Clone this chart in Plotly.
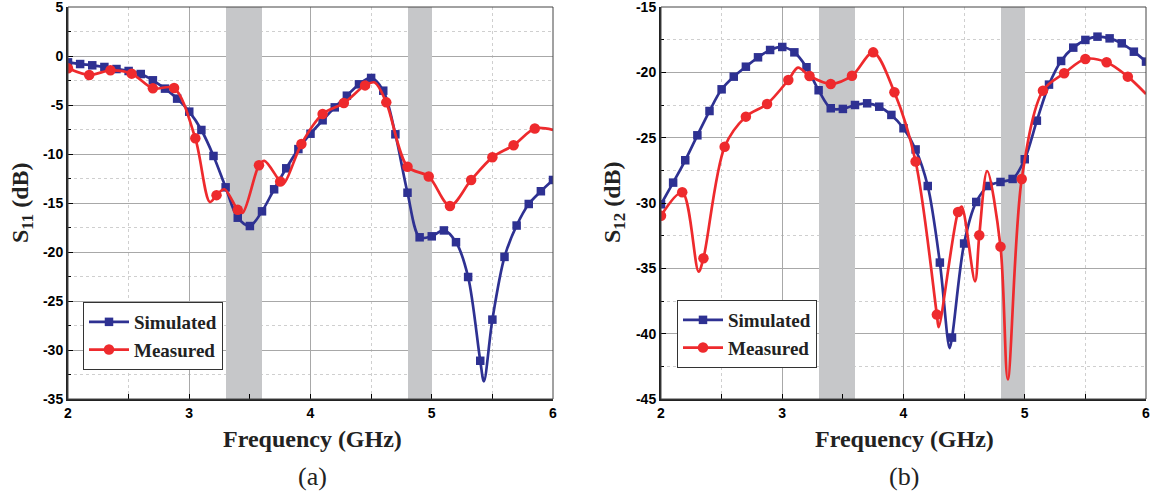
import plotly.graph_objects as go

# ---------------- data ----------------
freq_sim = [2.0, 2.1, 2.2, 2.3, 2.4, 2.5, 2.6, 2.7, 2.8, 2.9, 3.0, 3.1, 3.2, 3.3, 3.4, 3.5, 3.6, 3.7,
            3.8, 3.9, 4.0, 4.1, 4.2, 4.3, 4.4, 4.5, 4.6, 4.7, 4.8, 4.9, 5.0, 5.1, 5.2, 5.3, 5.4, 5.5,
            5.6, 5.7, 5.8, 5.9, 6.0]
s11_sim = [-0.65, -0.82, -0.95, -1.12, -1.33, -1.53, -1.84, -2.48, -3.33, -4.35, -5.68, -7.55, -10.2,
           -13.4, -16.5, -17.35, -15.85, -13.6, -11.46, -9.5, -7.93, -6.56, -5.24, -4.05, -2.89, -2.24,
           -3.54, -7.99, -13.95, -18.5, -18.4, -17.8, -19.0, -22.55, -31.1, -26.9, -20.5, -17.3, -15.1,
           -13.8, -12.65]
s11_sim_extra_f = [5.43]
s11_sim_extra_v = [-33.2]

freq_meas = [2.0, 2.175, 2.35, 2.525, 2.7, 2.875, 3.05, 3.225, 3.4, 3.575, 3.75, 3.925, 4.1, 4.275,
             4.45, 4.625, 4.8, 4.975, 5.15, 5.325, 5.5, 5.675, 5.85]
s11_meas = [-1.26, -1.94, -1.46, -1.8, -3.3, -3.27, -8.4, -14.2, -15.7, -11.15, -12.8, -8.98, -5.92,
            -4.8, -3.0, -4.73, -11.3, -12.3, -15.3, -12.65, -10.34, -9.1, -7.4]
s11_meas_extra_f = [3.17, 3.29, 3.44, 3.62, 3.78, 4.53, 6.0]
s11_meas_extra_v = [-14.9, -13.6, -16.0, -10.7, -13.0, -2.7, -7.55]

s12_sim = [-30.1, -28.44, -26.73, -24.82, -22.96, -21.3, -20.33, -19.57, -18.85, -18.29, -18.06,
           -18.47, -19.61, -21.37, -22.75, -22.8, -22.5, -22.37, -22.63, -23.26, -24.28, -25.9, -28.7,
           -34.56, -40.3, -33.1, -29.92, -28.7, -28.39, -28.16, -26.65, -23.7, -20.94, -19.13, -18.11,
           -17.52, -17.27, -17.4, -17.78, -18.42, -19.18]
s12_sim_extra_f = [4.38]
s12_sim_extra_v = [-41.1]

s12_meas = [-30.97, -29.18, -34.23, -25.69, -23.39, -22.42, -20.59, -20.28, -20.89, -20.26, -18.47,
            -21.53, -26.83, -38.54, -30.69, -32.47, -33.34, -28.16, -21.4, -20.07, -18.98, -19.23,
            -20.33]
s12_meas_extra_f = [2.31, 3.13, 4.29, 4.48, 4.59, 4.69, 4.86, 6.0]
s12_meas_extra_v = [-35.25, -19.64, -39.5, -30.28, -36.0, -27.55, -43.5, -21.66]

band_start = [3.3, 4.8]
band_end = [3.6, 5.0]

x_ticks = [2, 3, 4, 5, 6]
x_ticktext = ["2", "3", "4", "5", "6"]
y1_ticks = [5, 0, -5, -10, -15, -20, -25, -30, -35]
y1_ticktext = ["5", "0", "-5", "-10", "-15", "-20", "-25", "-30", "-35"]
y2_ticks = [-15, -20, -25, -30, -35, -40, -45]
y2_ticktext = ["-15", "-20", "-25", "-30", "-35", "-40", "-45"]

BLUE = "#2E3192"
RED = "#EE2A2D"
BAND = "#C6C7C9"
W, H = 1154, 495

fig = go.Figure()


def bold(labels):
    return ["<b>%s</b>" % t for t in labels]


def add_bands(xa, ya, ymin, ymax):
    centers = [(a + b) / 2 for a, b in zip(band_start, band_end)]
    widths = [b - a for a, b in zip(band_start, band_end)]
    fig.add_trace(go.Bar(x=centers, y=[ymax - ymin] * len(centers), base=ymin, width=widths,
                         marker=dict(color=BAND, line=dict(width=0)), xaxis=xa, yaxis=ya,
                         showlegend=False, hoverinfo="skip"))


def merged(xm, ym, xe, ye):
    pts = sorted(zip(list(xm) + list(xe), list(ym) + list(ye)))
    return [p[0] for p in pts], [p[1] for p in pts]


def add_series(xm, ym, xe, ye, color, symbol, size, name, xa, ya, legend):
    xl, yl = merged(xm, ym, xe, ye)
    fig.add_trace(go.Scatter(x=xl, y=yl, mode="lines",
                             line=dict(color=color, width=2.7, shape="spline", smoothing=0.9),
                             xaxis=xa, yaxis=ya, showlegend=False, hoverinfo="skip"))
    fig.add_trace(go.Scatter(x=xm, y=ym, mode="markers",
                             marker=dict(color=color, symbol=symbol, size=size),
                             xaxis=xa, yaxis=ya, showlegend=False))
    fig.add_trace(go.Scatter(x=[None], y=[None], mode="lines+markers", name="<b>%s</b>" % name,
                             line=dict(color=color, width=2.7),
                             marker=dict(color=color, symbol=symbol, size=size),
                             xaxis=xa, yaxis=ya, legend=legend))


add_bands("x", "y", -35, 5)
add_bands("x2", "y2", -45, -15)
add_series(freq_sim, s11_sim, s11_sim_extra_f, s11_sim_extra_v, BLUE, "square", 8.5, "Simulated", "x", "y", "legend")
add_series(freq_meas, s11_meas, s11_meas_extra_f, s11_meas_extra_v, RED, "circle", 10.5, "Measured", "x", "y", "legend")
add_series(freq_sim, s12_sim, s12_sim_extra_f, s12_sim_extra_v, BLUE, "square", 8.5, "Simulated", "x2", "y2", "legend2")
add_series(freq_meas, s12_meas, s12_meas_extra_f, s12_meas_extra_v, RED, "circle", 10.5, "Measured", "x2", "y2", "legend2")

# geometry in pixels
L1, R1 = 68, 553
L2, R2 = 661, 1146
TOP, BOT = 7, 399
ydom = [1 - BOT / H, 1 - TOP / H]

tickfont = dict(family="Liberation Sans", size=14, color="black")
axis_common = dict(showline=True, linecolor="#222", linewidth=2, ticks="inside", ticklen=5,
                   tickcolor="black", tickwidth=1, showgrid=True, gridcolor="#A8A8A8", gridwidth=1,
                   zeroline=False, tickfont=tickfont, automargin=False, ticklabeloverflow="allow")

fig.update_layout(
    xaxis=dict(domain=[L1 / W, R1 / W], range=[2, 6], tickvals=x_ticks, ticktext=bold(x_ticktext), anchor="y",
               minor=dict(dtick=0.5, tick0=2, showgrid=True, gridcolor="#CFCFCF", griddash="dot",
                          ticks="inside", ticklen=5, tickcolor="black"), **axis_common),
    yaxis=dict(domain=ydom, range=[-35, 5], tickvals=y1_ticks, ticktext=bold(y1_ticktext), anchor="x",
               minor=dict(dtick=2.5, tick0=0, showgrid=True, gridcolor="#CFCFCF", griddash="dot",
                          ticks="inside", ticklen=3, tickcolor="black"), **axis_common),
    xaxis2=dict(domain=[L2 / W, R2 / W], range=[2, 6], tickvals=x_ticks, ticktext=bold(x_ticktext), anchor="y2",
                minor=dict(dtick=0.5, tick0=2, showgrid=True, gridcolor="#CFCFCF", griddash="dot",
                           ticks="inside", ticklen=5, tickcolor="black"), **axis_common),
    yaxis2=dict(domain=ydom, range=[-45, -15], tickvals=y2_ticks, ticktext=bold(y2_ticktext), anchor="x2",
                minor=dict(dtick=2.5, tick0=-15, showgrid=True, gridcolor="#CFCFCF", griddash="dot",
                           ticks="inside", ticklen=3, tickcolor="black"), **axis_common),
    width=W, height=H, margin=dict(l=0, r=0, t=0, b=0),
    paper_bgcolor="white", plot_bgcolor="white", bargap=0,
    legend=dict(x=83 / W, y=1 - 302 / H, xanchor="left", yanchor="top", bgcolor="white",
                bordercolor="#333", borderwidth=1, font=dict(family="Liberation Serif", size=19, color="#222"),
                itemwidth=40, tracegroupgap=0),
    legend2=dict(x=677 / W, y=1 - 300 / H, xanchor="left", yanchor="top", bgcolor="white",
                 bordercolor="#333", borderwidth=1, font=dict(family="Liberation Serif", size=19, color="#222"),
                 itemwidth=40, tracegroupgap=0),
)

shapes = []
for xa, ya in (("x", "y"), ("x2", "y2")):
    shapes.append(dict(type="rect", xref=xa + " domain", yref=ya + " domain", x0=0, x1=1, y0=0, y1=1,
                       line=dict(color="#444", width=1), fillcolor="rgba(0,0,0,0)", layer="above"))
fig.update_layout(shapes=shapes)

title_font = dict(family="Liberation Serif", size=24, color="#222")
ann = []
for cx, lab in ((312, "(a)"), (904, "(b)")):
    ann.append(dict(x=cx / W, y=1 - 439 / H, xref="paper", yref="paper", text="<b>Frequency (GHz)</b>",
                    showarrow=False, font=title_font, xanchor="center", yanchor="middle"))
    ann.append(dict(x=cx / W, y=1 - 476 / H, xref="paper", yref="paper", text=lab,
                    showarrow=False, font=dict(family="Liberation Serif", size=26, color="#222"),
                    xanchor="center", yanchor="middle"))
ann.append(dict(x=22 / W, y=1 - 203 / H, xref="paper", yref="paper", text="<b>S<sub>11</sub> (dB)</b>",
                showarrow=False, font=title_font, textangle=-90, xanchor="center", yanchor="middle"))
ann.append(dict(x=614 / W, y=1 - 203 / H, xref="paper", yref="paper", text="<b>S<sub>12</sub> (dB)</b>",
                showarrow=False, font=title_font, textangle=-90, xanchor="center", yanchor="middle"))
fig.update_layout(annotations=ann)

fig.write_html("out.html")
